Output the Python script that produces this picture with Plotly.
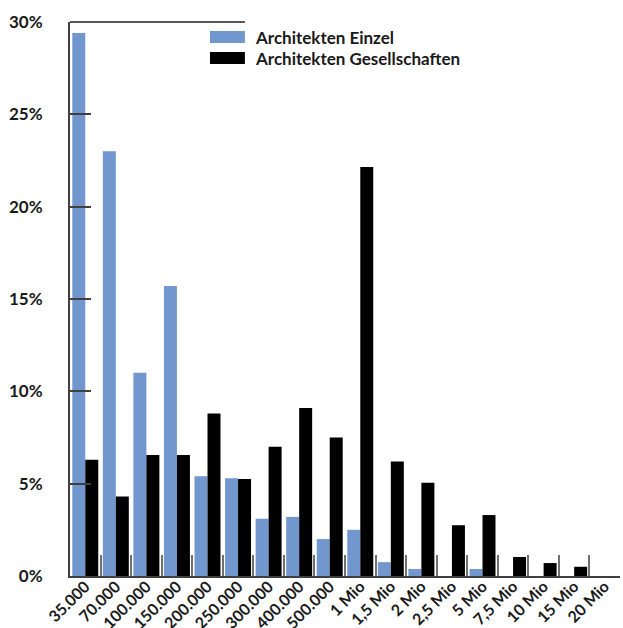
import plotly.graph_objects as go

categories = ["35.000", "70.000", "100.000", "150.000", "200.000", "250.000", "300.000",
              "400.000", "500.000", "1 Mio", "1,5 Mio", "2 Mio", "2,5 Mio", "5 Mio",
              "7,5 Mio", "10 Mio", "15 Mio", "20 Mio"]
einzel = [29.4, 23.0, 11.0, 15.7, 5.4, 5.3, 3.1, 3.2, 2.0, 2.5, 0.75, 0.38, 0, 0.38, 0, 0, 0, 0]
gesellschaften = [6.3, 4.3, 6.55, 6.55, 8.8, 5.25, 7.0, 9.1, 7.5, 22.15, 6.2, 5.05, 2.75, 3.3, 1.03, 0.7, 0.5, 0]
series_names = ["Architekten Einzel", "Architekten Gesellschaften"]
y_ticks = [0, 5, 10, 15, 20, 25, 30]
y_ticklabels = ["0%", "5%", "10%", "15%", "20%", "25%", "30%"]

BLUE = "#7297cf"
BLACK = "#000000"
FONT = "Lato"

fig = go.Figure()
fig.add_trace(go.Bar(x=categories, y=einzel, name=series_names[0], marker_color=BLUE,
                     marker_line_width=0, showlegend=False))
fig.add_trace(go.Bar(x=categories, y=gesellschaften, name=series_names[1], marker_color=BLACK,
                     marker_line_width=0, showlegend=False))

fig.update_layout(
    width=623, height=628,
    margin=dict(l=70, r=3, t=22, b=52),
    barmode="group", bargap=0.15, bargroupgap=0,
    plot_bgcolor="white", paper_bgcolor="white",
    font=dict(family=FONT, size=16, color="#1a1a1a", weight="bold"),
    xaxis=dict(
        automargin=False,
        showline=True, linecolor="#404040", linewidth=2,
        ticks="inside", tickson="boundaries", ticklen=21, tickcolor="#707070", tickwidth=2,
        tickangle=-45, tickfont=dict(size=16, family=FONT, weight="bold"),
        ticklabelstandoff=-7,
        showgrid=False, zeroline=False,
    ),
    yaxis=dict(
        automargin=False,
        range=[0, 30], tickvals=y_ticks, ticktext=y_ticklabels,
        showline=True, linecolor="#404040", linewidth=2,
        ticks="inside", ticklen=21, tickcolor="#404040", tickwidth=1.5,
        ticklabelstandoff=22, tickfont=dict(size=17, family=FONT, weight="bold"),
        showgrid=False, zeroline=False,
    ),
)

# partial top border
fig.add_shape(type="line", xref="paper", yref="paper", x0=0, x1=0.318, y0=1, y1=1,
              line=dict(color="#202020", width=1.5))

# manual legend
legend_rows = [(series_names[0], BLUE, 0.9838, 0.962), (series_names[1], BLACK, 0.9458, 0.924)]
for name, color, y1, y0 in legend_rows:
    fig.add_shape(type="rect", xref="paper", yref="paper", x0=0.2545, x1=0.318, y0=y0, y1=y1,
                  fillcolor=color, line_width=0)
    fig.add_annotation(xref="paper", yref="paper", x=0.3327, y=(y0 + y1) / 2, text=name,
                       showarrow=False, xanchor="left", yanchor="middle",
                       font=dict(size=17, family=FONT, weight="bold", color="#1a1a1a"))

fig.write_html("out.html")
